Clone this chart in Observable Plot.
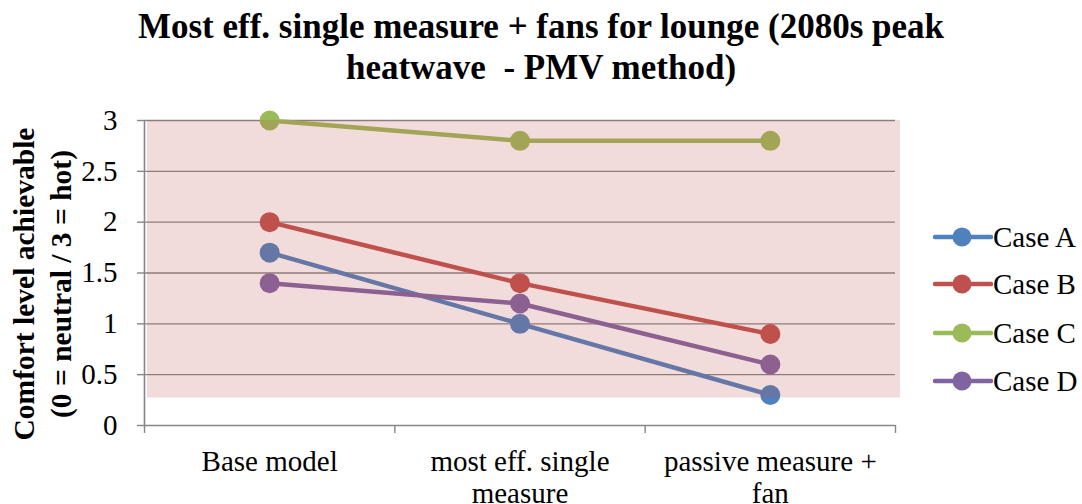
<!DOCTYPE html>
<html>
<head>
<meta charset="utf-8">
<script src="https://cdn.jsdelivr.net/npm/d3@7"></script>
<script src="https://cdn.jsdelivr.net/npm/@observablehq/plot@0.6"></script>
<style>
  html, body { margin: 0; padding: 0; background: #fff; }
  body { width: 1082px; height: 504px; position: relative; overflow: hidden; font-family: "Liberation Serif", "Times New Roman", serif; }
  #title { position: absolute; left: 0; top: 0; width: 1082px; text-align: center; font-weight: bold; font-size: 35px; line-height: 41px; padding-top: 6px; white-space: pre; color: #000; }
  #chart { position: absolute; left: 0; top: 100px; }
  #chart svg text { font-family: "Liberation Serif", "Times New Roman", serif !important; }
  .lg { position: absolute; left: 933px; height: 34px; display: flex; align-items: center; font-size: 29px; color: #000; }
  .lg svg { display: block; }
</style>
</head>
<body>
<div id="title"></div>
<div id="chart"></div>
<div id="legend"></div>
<script>
const titleLines = ["Most eff. single measure + fans for lounge (2080s peak", "heatwave  - PMV method)"];
const yLabelText = "Comfort level achievable\n(0 = neutral / 3 = hot)";
const categories = ["Base model", "most eff. single\nmeasure", "passive measure +\nfan"];
const seriesNames = ["Case A", "Case B", "Case C", "Case D"];
const seriesColors = ["#4f81bd", "#c0504d", "#9bbb59", "#8064a2"];
const caseA = [1.7, 1.0, 0.3];
const caseB = [2.0, 1.4, 0.9];
const caseC = [3.0, 2.8, 2.8];
const caseD = [1.4, 1.2, 0.6];
const yTicks = [0, 0.5, 1, 1.5, 2, 2.5, 3];
const shadeRange = [0.27, 3];

document.getElementById("title").textContent = titleLines.join("\n");

const values = [caseA, caseB, caseC, caseD];
const data = [];
values.forEach((arr, s) => arr.forEach((v, i) => data.push({series: seriesNames[s], x: i + 0.5, y: v})));
const boundaries = d3.range(categories.length + 1);

const font = "'Liberation Serif', 'Times New Roman', serif";
const gridColor = "#868686";

const plot = Plot.plot({
  width: 1082,
  height: 404,
  marginTop: 20,
  marginBottom: 79,
  marginLeft: 144,
  marginRight: 187,
  style: {fontFamily: font, fontSize: "29px", color: "#000", background: "transparent"},
  x: {domain: [0, categories.length], axis: null},
  y: {domain: [0, 3], axis: null},
  color: {domain: seriesNames, range: seriesColors},
  marks: [
    Plot.ruleY(yTicks, {stroke: gridColor, strokeWidth: 1.4}),
    Plot.ruleX([0], {y1: 0, y2: 3, stroke: gridColor, strokeWidth: 1.6}),
    Plot.axisY({ticks: yTicks, tickSize: 7, tickFormat: () => "", stroke: gridColor, strokeWidth: 1.4, label: null}),
    Plot.text(yTicks, {y: d => d, text: d => String(d), frameAnchor: "left", textAnchor: "end", dx: -27, fontSize: 29, fontFamily: font, fill: "#000"}),
    Plot.axisX({ticks: boundaries, tickSize: 8, tickFormat: () => "", stroke: gridColor, strokeWidth: 1.4, label: null}),
    Plot.text(categories, {x: (d, i) => i + 0.5, frameAnchor: "bottom", lineAnchor: "top", dy: 22, lineHeight: 1.12, fontSize: 29, fontFamily: font, fill: "#000"}),
    Plot.text([yLabelText], {frameAnchor: "left", rotate: -90, dx: -104, dy: 11, lineAnchor: "middle", textAnchor: "middle", lineHeight: 1.25, fontSize: 29.5, fontFamily: font, fontWeight: "bold", fill: "#000"}),
    Plot.line(data, {x: "x", y: "y", z: "series", stroke: "series", strokeWidth: 4.5}),
    Plot.dot(data, {x: "x", y: "y", fill: "series", r: 10, stroke: "none"}),
    Plot.rect([shadeRange], {x1: 0, x2: categories.length, y1: d => d[0], y2: d => d[1], insetLeft: 3, insetRight: -5, fill: "#c0504d", fillOpacity: 0.2})
  ]
});
document.getElementById("chart").appendChild(plot);

const legendCenters = [237, 284, 333, 381];
const legend = document.getElementById("legend");
seriesNames.forEach((name, i) => {
  const row = document.createElement("div");
  row.className = "lg";
  row.style.top = (legendCenters[i] - 17) + "px";
  row.innerHTML = `<svg width="60" height="24"><line x1="2" x2="58" y1="12" y2="12" stroke="${seriesColors[i]}" stroke-width="4.5" stroke-linecap="round"/><circle cx="29" cy="12" r="9.5" fill="${seriesColors[i]}"/></svg><span>${name}</span>`;
  legend.appendChild(row);
});
</script>
</body>
</html>
